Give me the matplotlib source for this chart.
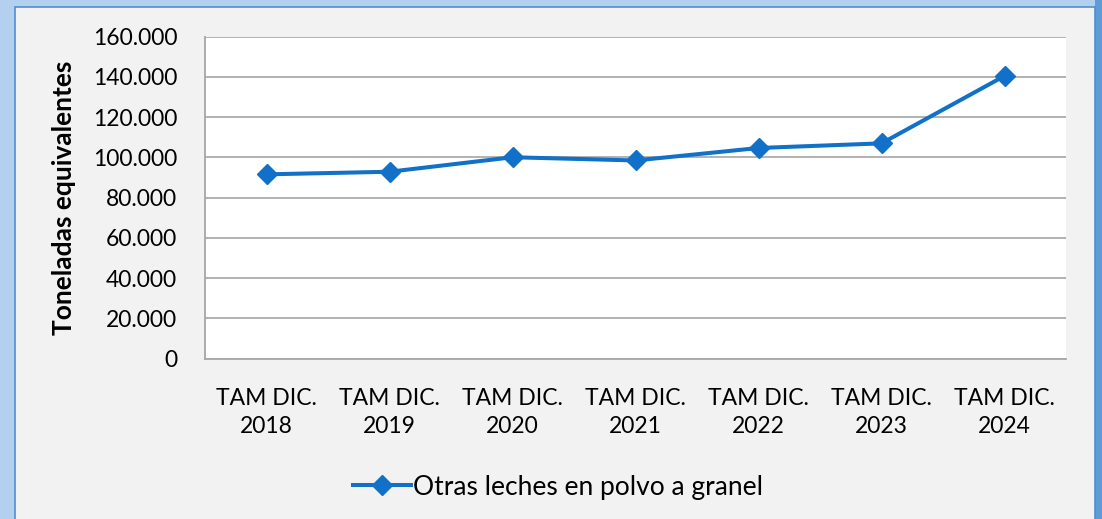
import matplotlib
matplotlib.use("Agg")
import matplotlib.pyplot as plt
from matplotlib.patches import Rectangle
from matplotlib.ticker import FuncFormatter

# datos (toneladas equivalentes)
categorias = ["TAM DIC.\n2018", "TAM DIC.\n2019", "TAM DIC.\n2020", "TAM DIC.\n2021",
              "TAM DIC.\n2022", "TAM DIC.\n2023", "TAM DIC.\n2024"]
toneladas = [91600, 92900, 100100, 98500, 104700, 107000, 140500]
serie = "Otras leches en polvo a granel"
y_ticks = [0, 20000, 40000, 60000, 80000, 100000, 120000, 140000, 160000]

AZUL = "#1170C8"
FONT = ["Lato", "DejaVu Sans"]
plt.rcParams["font.family"] = FONT


def miles(v, pos=None):
    return f"{int(v):,}".replace(",", ".")


W, H = 1102, 519
fig = plt.figure(figsize=(W / 100, H / 100), dpi=100)
fig.patch.set_facecolor("#B3D1EE")

# franja derecha mas oscura y panel gris claro
fig.add_artist(Rectangle((1095 / W, 0), 7 / W, 1, transform=fig.transFigure,
                         facecolor="#5E9BD8", edgecolor="none", zorder=0))
fig.add_artist(Rectangle((15 / W, -0.01), 1080 / W, (H - 7) / H + 0.01,
                         transform=fig.transFigure, facecolor="#F2F2F2",
                         edgecolor="#4F8FD0", linewidth=1.2, zorder=0))

ax = fig.add_axes([205 / W, (H - 358.7) / H, 861 / W, 322 / H])
ax.set_facecolor("white")
ax.set_zorder(2)

x = list(range(len(categorias)))
ax.plot(x, toneladas, color=AZUL, linewidth=2.9, marker="D", markersize=10,
        markeredgecolor=AZUL, label=serie, zorder=3)

ax.set_xlim(-0.5, len(categorias) - 0.5)
ax.set_ylim(0, 160000)
ax.set_yticks(y_ticks)
ax.yaxis.set_major_formatter(FuncFormatter(miles))
ax.set_xticks(x)
ax.set_xticklabels(categorias, fontsize=16.5, linespacing=1.4)
ax.tick_params(axis="y", labelsize=16.5, length=0, pad=20)
ax.tick_params(axis="x", length=0, pad=21)
ax.grid(axis="y", color="#A6A6A6", linewidth=1.2)
ax.set_axisbelow(True)

for s in ["top", "right"]:
    ax.spines[s].set_visible(False)
for s in ["left", "bottom"]:
    ax.spines[s].set_color("#A6A6A6")
    ax.spines[s].set_linewidth(1.3)

ax.set_ylabel("Toneladas equivalentes", fontsize=19, fontweight="bold", labelpad=12)

leg = fig.legend(loc="center", bbox_to_anchor=(558 / W, (H - 487) / H), frameon=False,
                 fontsize=19, handlelength=2.2, handletextpad=0.1)

fig.savefig("out.png", dpi=100, facecolor=fig.get_facecolor())
